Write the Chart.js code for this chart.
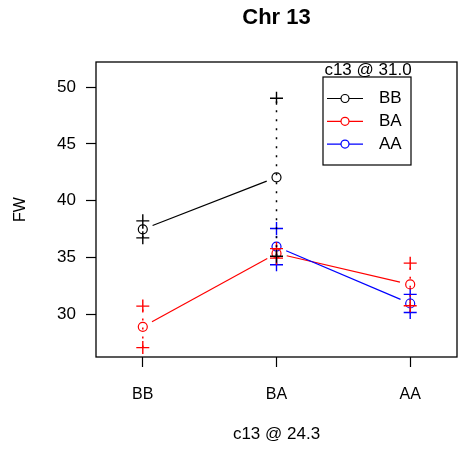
<!DOCTYPE html>
<html>
<head>
<meta charset="utf-8">
<script src="https://cdn.jsdelivr.net/npm/chart.js@4.4.1/dist/chart.umd.min.js"></script>
<style>
  html, body { margin: 0; padding: 0; background: #fff; }
  #wrap { width: 458px; height: 453px; }
</style>
</head>
<body>
<div id="wrap"><canvas id="chart" width="458" height="453"></canvas></div>
<script>
// genotype at c13 @ 24.3 (x axis) and at c13 @ 31.0 (one line each)
const categories = ['BB', 'BA', 'AA'];
const seriesNames = ['BB', 'BA', 'AA'];
const seriesColors = ['#000000', '#FF0000', '#0000FF'];

// mean FW and standard error, null = no individuals
const meanBB = [37.47, 42.06, null];
const seBB = [0.75, 6.97, null];
const meanBA = [28.87, 35.35, 32.61];
const seBA = [1.83, 0.42, 1.88];
const meanAA = [null, 35.95, 30.93];
const seAA = [null, 1.6, 0.8];

const yTicks = [30, 35, 40, 45, 50];

const means = [meanBB, meanBA, meanAA];
const ses = [seBB, seBA, seAA];

const FONT = "'Liberation Sans', Arial, sans-serif";
Chart.defaults.font.family = FONT;
Chart.defaults.color = '#000';

const datasets = [];
means.forEach((m, s) => {
    // error bars: dotted segment with + at both ends
    m.forEach((v, i) => {
        if (v === null) return;
        datasets.push({
            label: 'se',
            data: [{ x: i + 1, y: v - ses[s][i] }, { x: i + 1, y: v + ses[s][i] }],
            showLine: true,
            borderColor: seriesColors[s],
            borderWidth: 1.5,
            borderDash: [2, 7],
            pointStyle: 'cross',
            pointRadius: 6.5,
            pointBorderWidth: 1.4,
            pointBorderColor: seriesColors[s]
        });
    });
    // means as open circles
    datasets.push({
        label: seriesNames[s],
        data: m.map((v, i) => ({ x: i + 1, y: v })).filter(p => p.y !== null),
        showLine: false,
        pointStyle: 'circle',
        pointRadius: 4.5,
        pointBorderWidth: 1.2,
        pointBorderColor: seriesColors[s],
        pointBackgroundColor: 'rgba(0,0,0,0)'
    });
});

// lines between means that stop short of the circles (R type "b")
const gapLines = {
    id: 'gapLines',
    afterDatasetsDraw(chart) {
        const { ctx, scales: { x, y } } = chart;
        const gap = 10.5;
        ctx.save();
        ctx.lineWidth = 1.2;
        means.forEach((m, s) => {
            ctx.strokeStyle = seriesColors[s];
            for (let i = 0; i < m.length - 1; i++) {
                if (m[i] === null || m[i + 1] === null) continue;
                const x0 = x.getPixelForValue(i + 1), y0 = y.getPixelForValue(m[i]);
                const x1 = x.getPixelForValue(i + 2), y1 = y.getPixelForValue(m[i + 1]);
                const d = Math.hypot(x1 - x0, y1 - y0);
                const ux = (x1 - x0) / d, uy = (y1 - y0) / d;
                ctx.beginPath();
                ctx.moveTo(x0 + ux * gap, y0 + uy * gap);
                ctx.lineTo(x1 - ux * gap, y1 - uy * gap);
                ctx.stroke();
            }
        });
        ctx.restore();
    }
};

// box, main title and legend
const frame = {
    id: 'frame',
    afterDraw(chart) {
        const { ctx, chartArea: a } = chart;
        ctx.save();
        ctx.strokeStyle = '#000';
        ctx.lineWidth = 1.3;
        ctx.strokeRect(a.left, a.top, a.right - a.left, a.bottom - a.top);

        ctx.fillStyle = '#000';
        ctx.textAlign = 'center';
        ctx.textBaseline = 'middle';
        ctx.font = 'bold 22px ' + FONT;
        ctx.fillText('Chr 13', (a.left + a.right) / 2, 18);

        // legend
        ctx.lineWidth = 1.2;
        ctx.strokeRect(323, 77, 88, 88);
        ctx.font = '17px ' + FONT;
        ctx.fillText('c13 @ 31.0', 368, 70);
        ctx.textAlign = 'left';
        seriesNames.forEach((n, s) => {
            const yy = 98.5 + s * 22.8;
            ctx.strokeStyle = seriesColors[s];
            ctx.beginPath();
            ctx.moveTo(327, yy); ctx.lineTo(341, yy);
            ctx.moveTo(349, yy); ctx.lineTo(363, yy);
            ctx.stroke();
            ctx.beginPath();
            ctx.arc(345, yy, 4, 0, Math.PI * 2);
            ctx.stroke();
            ctx.fillStyle = '#000';
            ctx.fillText(n, 379, yy);
        });
        ctx.restore();
    }
};

new Chart(document.getElementById('chart'), {
    type: 'scatter',
    data: { datasets },
    options: {
        responsive: false,
        animation: false,
        layout: { autoPadding: false, padding: { top: 62, right: 1, left: 0, bottom: 0 } },
        plugins: { legend: { display: false }, tooltip: { enabled: false }, title: { display: false } },
        scales: {
            x: {
                type: 'linear',
                min: 0.65,
                max: 3.35,
                afterBuildTicks: s => { s.ticks = categories.map((c, i) => ({ value: i + 1 })); },
                afterFit: s => { s.height = 96; s.paddingLeft = 0; s.paddingRight = 0; },
                ticks: { callback: v => categories[v - 1], font: { size: 16 }, padding: 18, maxRotation: 0 },
                grid: { drawOnChartArea: false, tickLength: 10, color: '#000', tickWidth: 1.2 },
                border: { display: false },
                title: { display: true, text: 'c13 @ 24.3', font: { size: 17 }, padding: { top: 0, bottom: 8 } }
            },
            y: {
                min: 26.21,
                max: 52.23,
                afterBuildTicks: s => { s.ticks = yTicks.map(v => ({ value: v })); },
                afterFit: s => { s.width = 96; s.paddingTop = 0; s.paddingBottom = 0; },
                ticks: { font: { size: 17 }, padding: 10 },
                grid: { drawOnChartArea: false, tickLength: 10, color: '#000', tickWidth: 1.2 },
                border: { display: false },
                title: { display: true, text: 'FW', font: { size: 16 }, padding: { top: 11, bottom: 0 } }
            }
        }
    },
    plugins: [gapLines, frame]
});
</script>
</body>
</html>
